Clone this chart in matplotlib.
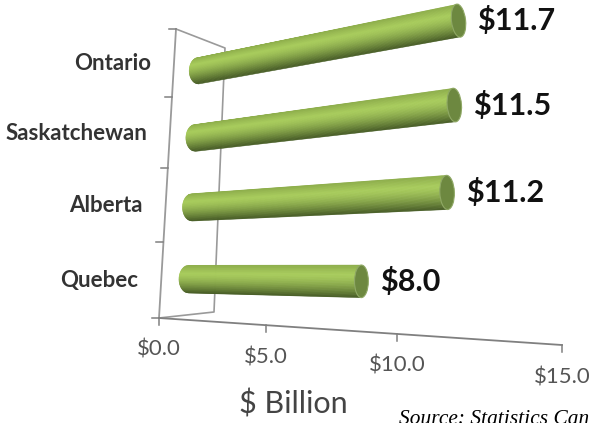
import numpy as np
from matplotlib import pyplot as plt
from matplotlib.patches import Ellipse, Polygon

provinces = ["Quebec", "Alberta", "Saskatchewan", "Ontario"]
values = [8.0, 11.2, 11.5, 11.7]
value_labels = ["$8.0", "$11.2", "$11.5", "$11.7"]
ticks = [0, 5, 10, 15]
tick_labels = ["$0.0", "$5.0", "$10.0", "$15.0"]

plt.rcParams['font.family'] = ['Lato', 'DejaVu Sans']


def homography(p00, p04, p150, p154):
	# plane (value, row) -> pixels, row runs 0..4 bottom to top
	src = [(0, 0), (0, 4), (15, 0), (15, 4)]
	dst = [p00, p04, p150, p154]
	A = []
	b = []
	for (u, v), (x, y) in zip(src, dst):
		A.append([u, v, 1, 0, 0, 0, -u * x, -v * x])
		A.append([0, 0, 0, u, v, 1, -u * y, -v * y])
		b += [x, y]
	return np.append(np.linalg.solve(np.array(A, float), np.array(b, float)), 1).reshape(3, 3)


def project(H, v, r):
	x, y, w = H @ np.array([v, r, 1.0])
	return x / w, y / w, w


front = homography((159, 318), (176, 29), (562, 345), (545, -48))
middle = homography((187, 316), (200, 38), (572, 335), (556, -42))

fig = plt.figure(figsize=(5.89, 4.23), dpi=100)
ax = fig.add_axes([0, 0, 1, 1])
ax.set_xlim(0, 589)
ax.set_ylim(423, 0)
ax.axis('off')

grey = '#9a9a9a'
# back wall edges
ax.plot([176, 225, 214, 159], [29, 48, 312, 318], color=grey, lw=1.2)

# front axes
x0, y0, _ = project(front, 0, 0)
x1, y1, _ = project(front, 0, 4)
x2, y2, _ = project(front, 15, 0)
ax.plot([x1, x0], [y1, y0], color=grey, lw=1.3)
ax.plot([x0, x2], [y0, y2], color='#808080', lw=1.3)
for r in range(5):
	x, y, _ = project(front, 0, r)
	ax.plot([x - 7, x], [y, y], color='#808080', lw=1.1)
for t, lab in zip(ticks, tick_labels):
	x, y, _ = project(front, t, 0)
	ax.plot([x, x], [y, y + 7], color='#808080', lw=1.1)
	ax.text(x, y + 32, lab, ha='center', va='center', fontsize=16, color='#555555')

ax.text(293, 404, "$ Billion", ha='center', va='center', fontsize=22, color='#444444')
ax.text(399, 420, "Source: Statistics Canada", ha='left', va='center', fontsize=15.4,
	style='italic', family='Liberation Serif', color='black')

light = np.array([0xa8, 0xcc, 0x5c]) / 255
edge = np.array([0x8c, 0xac, 0x4a]) / 255
dark = np.array([0x47, 0x5c, 0x26]) / 255

for i, (name, val, lab) in enumerate(zip(provinces, values, value_labels)):
	row = i + 0.5
	xs, ys, ws = project(middle, 0, row)
	xe, ye, we = project(middle, val, row)
	rs = 14.0 / ws
	re = 14.0 / we
	angle = np.arctan2(ye - ys, xe - xs)
	n = 44
	ts = np.linspace(-1, 1, n + 1)
	for a, b in zip(ts[:-1], ts[1:]):
		m = (a + b) / 2
		if m < -0.4:
			f = (m + 1) / 0.6
			col = edge + (light - edge) * f
		else:
			f = (m + 0.4) / 1.4
			col = light + (dark - light) * f ** 1.5
		ca = rs * 0.7 * np.sqrt(1 - a * a)
		cb = rs * 0.7 * np.sqrt(1 - b * b)
		poly = [
			(xs - ca, ys + a * rs),
			(xe, ye + a * re),
			(xe, ye + b * re),
			(xs - cb, ys + b * rs),
		]
		ax.add_patch(Polygon(poly, closed=True, facecolor=col, edgecolor=col, lw=0.4, zorder=2.5))
	ax.add_patch(Ellipse((xe, ye), re * 0.85, re * 2, angle=np.degrees(angle) * 0.6,
		facecolor='#6d8840', edgecolor='#8fa865', lw=0.8, zorder=3))
	ax.text(xe + 19, ye, lab, ha='left', va='center', fontsize=22, fontweight='bold', color='#111111')

	x, y, _ = project(front, 0, row)
	ax.text(x - 23, y + 1, name, ha='right', va='center', fontsize=16, fontweight='bold', color='#333333')

fig.savefig('out.png', dpi=100)
